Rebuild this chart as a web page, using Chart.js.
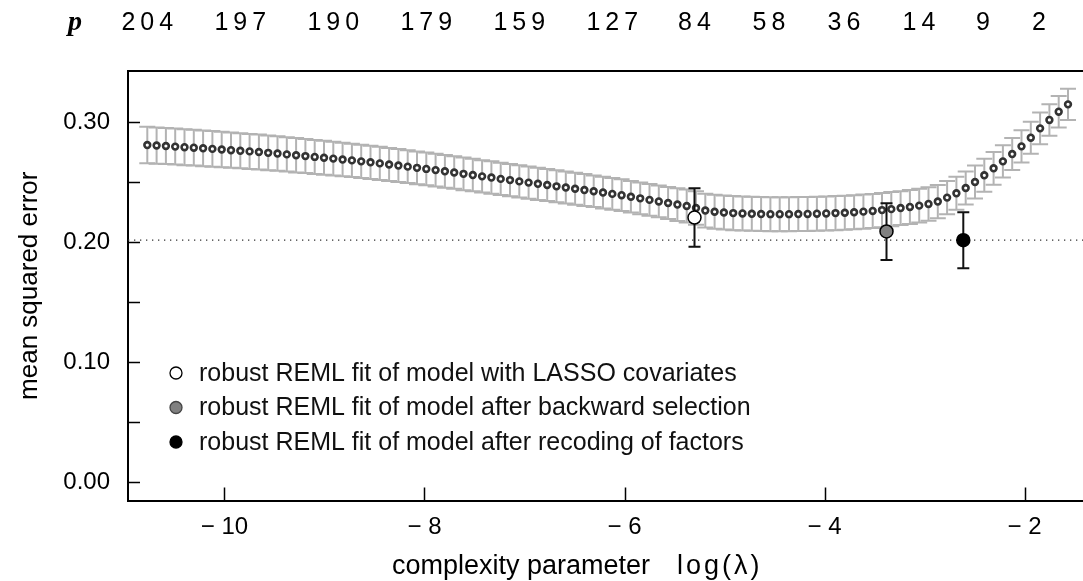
<!DOCTYPE html>
<html>
<head>
<meta charset="utf-8">
<script src="https://cdn.jsdelivr.net/npm/chart.js@4.4.1/dist/chart.umd.min.js"></script>
<style>
  html, body { margin: 0; padding: 0; background: #fff; overflow: hidden; }
  #wrap { width: 1083px; height: 581px; }
</style>
</head>
<body>
<div id="wrap"><canvas id="cv" width="1083" height="581"></canvas></div>
<script>
// cross-validation curve: log(lambda) grid, mean squared error and its standard error
const logLambda = [
  -10.772, -10.679, -10.586, -10.493, -10.400, -10.307, -10.214, -10.121, -10.028, -9.935,
  -9.842, -9.749, -9.656, -9.563, -9.470, -9.377, -9.284, -9.191, -9.098, -9.005,
  -8.912, -8.819, -8.726, -8.633, -8.540, -8.447, -8.354, -8.261, -8.168, -8.075,
  -7.982, -7.889, -7.796, -7.703, -7.610, -7.517, -7.424, -7.331, -7.238, -7.145,
  -7.052, -6.959, -6.866, -6.773, -6.680, -6.587, -6.494, -6.401, -6.308, -6.215,
  -6.122, -6.029, -5.936, -5.843, -5.750, -5.657, -5.564, -5.471, -5.378, -5.285,
  -5.192, -5.099, -5.006, -4.913, -4.820, -4.727, -4.634, -4.541, -4.448, -4.355,
  -4.262, -4.169, -4.076, -3.983, -3.890, -3.797, -3.704, -3.611, -3.518, -3.425,
  -3.332, -3.239, -3.146, -3.053, -2.960, -2.867, -2.774, -2.681, -2.588, -2.495,
  -2.402, -2.309, -2.216, -2.123, -2.030, -1.937, -1.844, -1.751, -1.658, -1.565
];
const mse = [
  0.2808, 0.2804, 0.2800, 0.2795, 0.2790, 0.2786, 0.2781, 0.2776, 0.2771, 0.2765,
  0.2760, 0.2755, 0.2750, 0.2743, 0.2737, 0.2730, 0.2723, 0.2716, 0.2709, 0.2702,
  0.2695, 0.2687, 0.2680, 0.2672, 0.2664, 0.2655, 0.2646, 0.2637, 0.2628, 0.2618,
  0.2609, 0.2599, 0.2589, 0.2579, 0.2568, 0.2558, 0.2547, 0.2537, 0.2526, 0.2516,
  0.2505, 0.2495, 0.2485, 0.2475, 0.2464, 0.2454, 0.2444, 0.2433, 0.2423, 0.2412,
  0.2401, 0.2390, 0.2377, 0.2364, 0.2351, 0.2338, 0.2325, 0.2312, 0.2300, 0.2283,
  0.2262, 0.2252, 0.2246, 0.2241, 0.2238, 0.2235, 0.2233, 0.2232, 0.2232, 0.2232,
  0.2233, 0.2234, 0.2236, 0.2238, 0.2241, 0.2244, 0.2248, 0.2253, 0.2259, 0.2266,
  0.2274, 0.2283, 0.2292, 0.2303, 0.2317, 0.2337, 0.2370, 0.2406, 0.2450, 0.2500,
  0.2556, 0.2614, 0.2672, 0.2733, 0.2797, 0.2869, 0.2947, 0.3017, 0.3086, 0.3147
];
const mseSE = [
  0.0152, 0.0151, 0.0151, 0.0150, 0.0150, 0.0149, 0.0149, 0.0148, 0.0148, 0.0147,
  0.0146, 0.0146, 0.0145, 0.0145, 0.0144, 0.0143, 0.0143, 0.0142, 0.0142, 0.0141,
  0.0140, 0.0140, 0.0139, 0.0139, 0.0138, 0.0138, 0.0138, 0.0137, 0.0137, 0.0137,
  0.0137, 0.0136, 0.0136, 0.0136, 0.0136, 0.0135, 0.0135, 0.0135, 0.0135, 0.0134,
  0.0134, 0.0134, 0.0134, 0.0133, 0.0133, 0.0133, 0.0133, 0.0133, 0.0132, 0.0132,
  0.0132, 0.0132, 0.0132, 0.0132, 0.0132, 0.0132, 0.0134, 0.0136, 0.0138, 0.0140,
  0.0141, 0.0142, 0.0142, 0.0142, 0.0142, 0.0142, 0.0142, 0.0142, 0.0142, 0.0142,
  0.0142, 0.0142, 0.0142, 0.0142, 0.0142, 0.0142, 0.0142, 0.0142, 0.0142, 0.0142,
  0.0142, 0.0141, 0.0141, 0.0140, 0.0140, 0.0139, 0.0139, 0.0138, 0.0138, 0.0137,
  0.0137, 0.0136, 0.0135, 0.0134, 0.0134, 0.0133, 0.0132, 0.0131, 0.0131, 0.0130
];

// the three refitted models (robust REML)
const fitLabels = [
  'robust REML fit of model with LASSO covariates',
  'robust REML fit of model after backward selection',
  'robust REML fit of model after recoding of factors'
];
const fitX = [-5.30, -3.38, -2.612];
const fitY = [0.2204, 0.2088, 0.2015];
const fitLo = [0.1961, 0.1850, 0.1781];
const fitHi = [0.2447, 0.2322, 0.2247];
const fitColors = ['#ffffff', '#808080', '#000000'];
const refLevel = 0.2015;

// number of selected covariates along the top
const pLabels = ['204', '197', '190', '179', '159', '127', '84', '58', '36', '14', '9', '2'];
const pAt = [-10.772, -9.842, -8.912, -7.982, -7.052, -6.122, -5.30, -4.555, -3.805, -3.055, -2.415, -1.855];

const xTicks = [-10, -8, -6, -4, -2];
const yTicks = [0, 0.05, 0.10, 0.15, 0.20, 0.25, 0.30];
const yTickLabels = ['0.00', '', '0.10', '', '0.20', '', '0.30'];

const FONT = '"Liberation Sans", Arial, sans-serif';
Chart.defaults.font.family = FONT;
Chart.defaults.color = '#000';

const cvPlugin = {
    id: 'cvPlugin',
    beforeDatasetDraw(chart, args) {
        const { ctx, scales: { x, y } } = chart;
        ctx.save();
        if (args.index === 1) {
            // grey error bars of the CV curve
            ctx.strokeStyle = '#b3b3b3';
            ctx.lineWidth = 2;
            logLambda.forEach((lx, i) => {
                const px = x.getPixelForValue(lx);
                const top = y.getPixelForValue(mse[i] + mseSE[i]);
                const bot = y.getPixelForValue(mse[i] - mseSE[i]);
                ctx.beginPath();
                ctx.moveTo(px, top); ctx.lineTo(px, bot);
                ctx.moveTo(px - 8, top); ctx.lineTo(px + 8, top);
                ctx.moveTo(px - 8, bot); ctx.lineTo(px + 8, bot);
                ctx.stroke();
            });
        }
        if (args.index === 2) {
            ctx.strokeStyle = '#111';
            ctx.lineWidth = 2;
            fitX.forEach((fx, i) => {
                const px = x.getPixelForValue(fx);
                const top = y.getPixelForValue(fitHi[i]);
                const bot = y.getPixelForValue(fitLo[i]);
                ctx.beginPath();
                ctx.moveTo(px, top); ctx.lineTo(px, bot);
                ctx.moveTo(px - 6, top); ctx.lineTo(px + 6, top);
                ctx.moveTo(px - 6, bot); ctx.lineTo(px + 6, bot);
                ctx.stroke();
            });
        }
        ctx.restore();
    },
    afterDraw(chart) {
        const { ctx, chartArea: area, scales: { x, y } } = chart;
        ctx.save();

        // top frame line
        ctx.strokeStyle = '#000';
        ctx.lineWidth = 2;
        ctx.beginPath();
        ctx.moveTo(area.left - 1, area.top);
        ctx.lineTo(area.right, area.top);
        ctx.stroke();

        // inward tick marks
        ctx.lineWidth = 1.5;
        ctx.beginPath();
        yTicks.forEach(v => {
            const py = Math.round(y.getPixelForValue(v)) + 0.5;
            ctx.moveTo(area.left, py);
            ctx.lineTo(area.left + 12, py);
        });
        xTicks.forEach(v => {
            const px = Math.round(x.getPixelForValue(v)) + 0.5;
            ctx.moveTo(px, area.bottom);
            ctx.lineTo(px, area.bottom - 13);
        });
        ctx.stroke();

        // p along the top
        ctx.fillStyle = '#000';
        ctx.textBaseline = 'alphabetic';
        ctx.textAlign = 'center';
        ctx.font = 'italic bold 28px "Liberation Serif", serif';
        ctx.fillText('p', 75, 30);
        ctx.font = '25px ' + FONT;
        ctx.letterSpacing = '5px';
        pLabels.forEach((lab, i) => {
            ctx.fillText(lab, x.getPixelForValue(pAt[i]) + 2.5, 30);
        });

        // x axis title
        ctx.textAlign = 'left';
        ctx.font = '27px ' + FONT;
        ctx.letterSpacing = '0px';
        ctx.fillText('complexity parameter', 392, 574);
        ctx.letterSpacing = '3px';
        ctx.fillText('log(λ)', 677, 574);
        ctx.letterSpacing = '0px';

        // legend
        const rows = [373, 407.5, 442];
        ctx.font = '25px ' + FONT;
        ctx.textBaseline = 'middle';
        fitLabels.forEach((lab, i) => {
            ctx.beginPath();
            ctx.arc(176, rows[i], 6, 0, Math.PI * 2);
            ctx.fillStyle = fitColors[i];
            ctx.fill();
            ctx.lineWidth = 1.3;
            ctx.strokeStyle = i === 1 ? '#444' : '#000';
            ctx.stroke();
            ctx.fillStyle = '#111';
            ctx.fillText(lab, 199, rows[i] + 1);
        });
        ctx.restore();
    }
};

const ctx = document.getElementById('cv').getContext('2d');
const chart = new Chart(ctx, {
    type: 'scatter',
    data: {
        datasets: [
            {
                label: 'reference',
                data: [{ x: -10.965, y: refLevel }, { x: -1.415, y: refLevel }],
                showLine: true,
                borderColor: '#333',
                borderWidth: 1.3,
                borderDash: [1.3, 4.7],
                pointRadius: 0,
                order: 3
            },
            {
                label: 'cv error',
                data: logLambda.map((lx, i) => ({ x: lx, y: mse[i] })),
                pointRadius: 2.9,
                pointBorderWidth: 2.6,
                pointBorderColor: '#333',
                pointBackgroundColor: '#fff',
                order: 2
            },
            {
                label: 'refits',
                data: fitX.map((fx, i) => ({ x: fx, y: fitY[i] })),
                pointRadius: 6.5,
                pointBorderWidth: 1.5,
                pointBorderColor: '#000',
                pointBackgroundColor: fitColors,
                order: 1
            }
        ]
    },
    options: {
        responsive: false,
        animation: false,
        events: [],
        layout: { autoPadding: false, padding: { top: 71, right: 0, left: 0, bottom: 0 } },
        plugins: {
            legend: { display: false },
            tooltip: { enabled: false }
        },
        scales: {
            x: {
                type: 'linear',
                position: 'bottom',
                min: -10.965,
                max: -1.415,
                afterBuildTicks: scale => { scale.ticks = xTicks.map(v => ({ value: v })); },
                afterFit: scale => {
                    scale.height = 80.5;
                    scale.paddingLeft = 0;
                    scale.paddingRight = 0;
                },
                grid: { display: false, drawTicks: false },
                border: { display: true, color: '#000', width: 2 },
                ticks: {
                    color: '#000',
                    font: { size: 24 },
                    padding: 12,
                    maxRotation: 0,
                    autoSkip: false,
                    callback: v => '\u2212 ' + Math.abs(v)
                }
            },
            y: {
                type: 'linear',
                position: 'left',
                min: -0.0154,
                max: 0.3425,
                afterBuildTicks: scale => { scale.ticks = yTicks.map(v => ({ value: v })); },
                afterFit: scale => { scale.width = 128; },
                grid: { display: false, drawTicks: false },
                border: { display: true, color: '#000', width: 2 },
                ticks: {
                    color: '#000',
                    font: { size: 24 },
                    padding: 18,
                    autoSkip: false,
                    callback: (v, i) => yTickLabels[i]
                },
                title: {
                    display: true,
                    text: 'mean squared error',
                    color: '#000',
                    font: { size: 26 },
                    padding: { top: 14, bottom: 0 }
                }
            }
        }
    },
    plugins: [cvPlugin]
});
</script>
</body>
</html>
